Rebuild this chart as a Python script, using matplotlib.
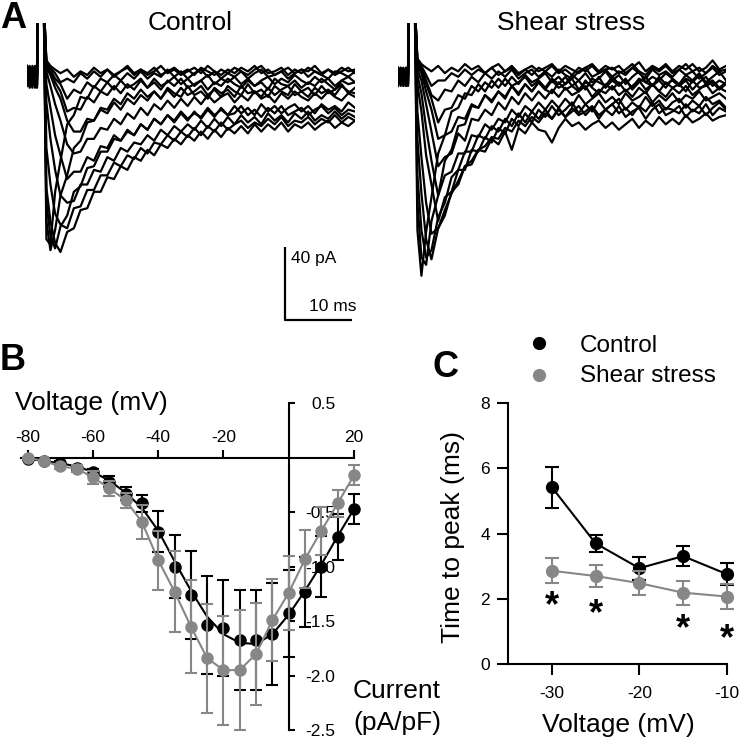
import matplotlib.pyplot as plt
from matplotlib.transforms import offset_copy

plt.rcParams['font.family'] = ['Liberation Sans', 'DejaVu Sans']
plt.rcParams['axes.unicode_minus'] = False

W, H = 739, 746
GREY = '#878787'

# ---------------- panel A : sodium current traces (pA) ----------------
t_pre = [0, 0.4, 0.8, 1.2, 1.5]
t_art = [1.6, 2.5]
t_post = [2.9, 3.5, 4.2, 5] + list(range(6, 50))
artifact_pA = 40

control_pre = [
    [2, -4, 3, -6, 1], [-3, 4, -5, 2, -2], [5, -2, -7, 3, -4], [-6, 1, 4, -3, 2],
    [0, -7, 2, 5, -5], [3, 5, -4, -1, -7], [-2, 2, 0, -7, 4], [4, -5, 5, 1, -3],
    [-5, 3, -2, 4, -6], [1, -6, 3, -4, 3], [-4, 0, -6, 2, 5], [5, -3, 1, -5, 0],
    [-1, 4, -3, 3, -1],
]
control_post = [
    [-90, -93, -64, -47, -27, -22, -12, -13, -6, -9,
     -4, -8, -3, -7, -5, -2, -7, -4, -8, -3,
     -6, -2, -7, -5, -3, -8, -4, -6, -2, -5,
     -7, -3, -6, -4, -8, -2, -5, -6, -3, -7,
     -4, -6, -2, -5, -8, -3, -5, -4],
    [-80, -96, -85, -66, -55, -40, -36, -26, -25, -18,
     -19, -13, -16, -10, -13, -8, -12, -9, -13, -7,
     -10, -12, -6, -11, -9, -13, -7, -10, -8, -12,
     -6, -10, -9, -12, -7, -11, -8, -6, -11, -9,
     -12, -7, -10, -8, -11, -6, -9, -10],
    [-70, -88, -95, -83, -77, -64, -61, -51, -50, -42,
     -42, -35, -36, -30, -33, -27, -30, -24, -27, -22,
     -26, -21, -25, -20, -24, -19, -23, -18, -22, -21,
     -17, -22, -19, -23, -18, -21, -17, -22, -20, -18,
     -22, -19, -17, -21, -18, -22, -19, -20],
    [-62, -80, -92, -97, -86, -84, -74, -73, -64, -64,
     -56, -57, -50, -52, -45, -47, -41, -44, -38, -40,
     -35, -38, -33, -36, -31, -35, -30, -34, -29, -32,
     -28, -32, -27, -31, -27, -30, -26, -31, -27, -29,
     -26, -30, -27, -25, -29, -26, -28, -25],
    [-40, -60, -76, -82, -84, -73, -72, -63, -63, -55,
     -55, -48, -50, -44, -46, -40, -43, -37, -38, -33,
     -36, -31, -34, -29, -33, -28, -31, -26, -30, -27,
     -25, -29, -26, -28, -24, -27, -23, -28, -25, -26,
     -23, -27, -24, -26, -22, -26, -23, -25],
    [-15, -35, -52, -66, -70, -69, -60, -60, -52, -53,
     -45, -47, -40, -42, -37, -38, -33, -36, -30, -33,
     -28, -31, -27, -30, -25, -29, -24, -28, -23, -27,
     -22, -26, -23, -27, -21, -25, -22, -26, -21, -24,
     -20, -25, -22, -24, -20, -24, -21, -23],
    [-5, -18, -33, -44, -57, -53, -53, -45, -47, -39,
     -40, -33, -36, -31, -33, -27, -30, -24, -27, -22,
     -25, -20, -24, -21, -23, -18, -22, -19, -22, -17,
     -21, -18, -22, -16, -20, -17, -21, -18, -16, -20,
     -17, -21, -16, -19, -17, -20, -15, -18],
    [2, -6, -16, -25, -38, -43, -42, -35, -35, -29,
     -30, -24, -27, -21, -24, -18, -22, -16, -19, -14,
     -18, -13, -17, -12, -16, -11, -15, -12, -10, -15,
     -11, -14, -9, -13, -11, -15, -10, -13, -9, -12,
     -14, -10, -13, -9, -12, -14, -10, -12],
    [4, 0, -7, -13, -25, -31, -31, -24, -25, -19,
     -21, -15, -19, -13, -16, -11, -14, -9, -13, -8,
     -12, -7, -11, -9, -6, -11, -8, -12, -6, -9,
     -11, -5, -10, -8, -12, -6, -9, -11, -5, -9,
     -7, -11, -6, -10, -8, -5, -10, -7],
    [5, 2, -4, -9, -20, -18, -19, -12, -15, -9,
     -11, -6, -10, -5, -8, -3, -7, -2, -6, -4,
     -1, -5, -2, -6, -3, 0, -5, -2, -4, -1,
     -5, -2, -6, -3, -1, -5, -2, -4, 0, -3,
     -5, -1, -4, -2, -6, -3, -1, -4],
    [6, 3, -2, -5, -13, -8, -10, -4, -7, -2,
     -4, 0, -3, 1, -2, 2, -2, 1, -1, 3,
     -1, 2, -2, 1, 3, -1, 2, -2, 1, -1,
     2, -2, 1, 3, -1, 0, 2, -2, 1, 3,
     -1, 2, 0, -2, 2, 1, -1, 2],
    [7, 4, 1, -4, -2, -4, 1, -2, 2, -1,
     3, 0, 2, 4, 0, 3, 1, 4, 0, 2,
     4, 1, 3, 0, 4, 2, 0, 3, 1, 4,
     2, 0, 3, 5, 1, 2, 4, 0, 3, 1,
     4, 2, 0, 3, 1, 4, 2, 3],
    [8, 5, 3, 1, 3, -1, 2, 0, 4, 1,
     3, -1, 2, 5, 1, 3, 0, 2, 5, 1,
     3, 0, 2, 4, 1, 5, 2, 0, 3, 1,
     4, 2, 5, 1, 3, 0, 2, 4, 1, 3,
     2, 5, 1, 3, 0, 2, 4, 1],
]

shear_pre = [
    [3, -5, 2, -6, 0], [-4, 3, -6, 1, -3], [4, -1, -6, 3, -5], [-5, 2, 4, -2, 1],
    [1, -6, 0, 4, -4], [2, 4, -3, -1, -6], [-3, 1, -1, -6, 3], [4, -4, 3, 0, -2],
    [-6, 2, -3, 4, -5], [0, -5, 2, -3, 4], [-2, 0, -5, 2, 3], [3, -3, 1, -4, -1],
    [-1, 4, -2, 2, 0],
]
shear_post = [
    [-85, -110, -86, -67, -43, -33, -20, -18, -10, -11,
     -5, -9, -3, -7, -2, -6, -4, -1, -6, -3,
     -7, -2, -5, -1, -6, -3, -8, -2, -4, -6,
     -1, -5, -3, -7, -2, -4, -6, -1, -5, -3,
     -6, -2, -4, 0, -5, -3, -7, -4],
    [-70, -100, -104, -80, -66, -47, -41, -28, -27, -17,
     -18, -11, -14, -9, -12, -6, -10, -5, -9, -4,
     -8, -10, -4, -8, -6, -9, -3, -7, -10, -5,
     -8, -4, -9, -6, -3, -8, -5, -9, -4, -7,
     -5, -9, -3, -7, -6, -4, -8, -5],
    [-55, -85, -100, -96, -78, -70, -56, -52, -42, -42,
     -33, -35, -28, -31, -24, -28, -21, -26, -20, -24,
     -19, -24, -18, -23, -20, -17, -22, -18, -24, -19,
     -22, -17, -23, -20, -18, -24, -19, -16, -22, -20,
     -17, -23, -19, -21, -16, -22, -18, -20],
    [-35, -65, -90, -101, -84, -77, -64, -60, -50, -49,
     -41, -42, -35, -38, -31, -41, -29, -32, -26, -30,
     -31, -37, -29, -24, -28, -26, -30, -27, -25, -29,
     -26, -30, -27, -24, -29, -25, -28, -23, -27, -24,
     -27, -22, -26, -24, -21, -25, -23, -22],
    [-20, -45, -70, -87, -84, -74, -65, -58, -50, -47,
     -41, -39, -34, -35, -29, -31, -25, -28, -23, -26,
     -21, -24, -19, -23, -18, -22, -20, -17, -22, -19,
     -16, -21, -18, -22, -17, -20, -15, -21, -18, -19,
     -21, -16, -20, -17, -22, -18, -15, -19],
    [-5, -20, -44, -60, -80, -67, -64, -52, -52, -41,
     -42, -34, -37, -29, -32, -24, -28, -21, -26, -19,
     -23, -17, -22, -19, -15, -21, -16, -20, -14, -19,
     -16, -13, -19, -15, -18, -12, -17, -14, -19, -15,
     -13, -18, -14, -17, -12, -16, -14, -18],
    [0, -10, -29, -47, -66, -55, -53, -43, -43, -33,
     -34, -27, -30, -24, -26, -19, -23, -17, -20, -15,
     -19, -14, -18, -13, -17, -11, -16, -13, -10, -15,
     -12, -16, -10, -14, -12, -9, -15, -11, -14, -10,
     -15, -11, -13, -9, -14, -12, -10, -13],
    [3, -3, -16, -31, -50, -45, -43, -32, -36, -24,
     -25, -19, -22, -15, -19, -12, -16, -10, -14, -9,
     -13, -8, -12, -7, -11, -9, -6, -12, -8, -10,
     -6, -11, -8, -12, -7, -10, -5, -9, -12, -7,
     -10, -6, -11, -8, -5, -10, -7, -9],
    [5, 1, -9, -19, -35, -33, -31, -23, -24, -16,
     -18, -11, -15, -9, -13, -6, -11, -5, -9, -4,
     -8, -3, -7, -5, -2, -8, -4, -6, -1, -7,
     -3, -6, -2, -8, -4, -1, -6, -3, -7, -2,
     -6, -3, -8, -4, -1, -6, -3, -5],
    [6, 3, -5, -13, -26, -19, -18, -11, -13, -6,
     -9, -4, -7, -2, -6, -1, -5, 0, -4, -2,
     1, -4, -1, -5, 0, -3, 1, -4, -2, 2,
     -3, 0, -5, -1, 2, -4, -1, -3, 1, -2,
     -5, 0, -3, 1, -4, -1, 2, -3],
    [7, 4, -3, -11, -14, -8, -9, -3, -6, -1,
     -4, 1, -2, 2, -1, 3, -2, 1, 3, -1,
     2, -1, 3, 0, -2, 2, 4, -1, 1, 3,
     -1, 2, 0, 4, 1, -2, 3, 0, 2, -1,
     3, 0, 2, -2, 1, 4, 0, 2],
    [8, 5, 0, -6, -3, -3, 1, -1, 3, 0,
     3, 1, 4, 0, 2, 5, 1, 3, 0, 4,
     2, 5, 1, 3, 0, 4, 2, 5, 1, 3,
     4, 1, 3, 6, 2, 0, 4, 2, 5, 1,
     3, 6, 2, 4, 1, 5, 2, 3],
    [9, 6, 4, 2, 5, 1, 4, 2, 6, 3,
     5, 1, 4, 6, 2, 4, 0, 3, 5, 2,
     4, 6, 2, 5, 3, 1, 4, 6, 2, 5,
     3, 5, 1, 4, 7, 2, 5, 3, 6, 2,
     5, 3, 6, 2, 4, 8, 3, 5],
]

scale_pA = 40
scale_ms = 10

# ---------------- panel B : I-V relationship (pA/pF) ----------------
iv_voltage = list(range(-80, 25, 5))
iv_control = [-0.01, -0.03, -0.05, -0.09, -0.13, -0.22, -0.33, -0.42, -0.68, -1.00, -1.26,
              -1.54, -1.56, -1.67, -1.67, -1.62, -1.43, -1.23, -1.00, -0.73, -0.47]
iv_control_err = [0.01, 0.01, 0.02, 0.02, 0.03, 0.05, 0.06, 0.08, 0.19, 0.29, 0.40,
                  0.45, 0.44, 0.46, 0.46, 0.47, 0.40, 0.32, 0.28, 0.21, 0.14]
iv_control_fit = [-0.01, -0.03, -0.05, -0.08, -0.13, -0.21, -0.32, -0.46, -0.67, -0.95, -1.22,
                  -1.46, -1.62, -1.70, -1.71, -1.62, -1.44, -1.22, -0.98, -0.72, -0.47]
iv_shear = [0.0, -0.03, -0.08, -0.10, -0.18, -0.28, -0.39, -0.59, -0.94, -1.23, -1.55,
            -1.84, -1.95, -1.95, -1.80, -1.49, -1.24, -0.93, -0.67, -0.42, -0.16]
iv_shear_err = [0.01, 0.01, 0.02, 0.03, 0.06, 0.07, 0.07, 0.16, 0.27, 0.37, 0.43,
                0.50, 0.50, 0.55, 0.47, 0.38, 0.34, 0.27, 0.22, 0.12, 0.09]
iv_xticks = [-80, -60, -40, -20, 20]
iv_yticks = [0.5, -0.5, -1.0, -1.5, -2.0, -2.5]

# ---------------- panel C : time to peak (ms) ----------------
ttp_voltage = [-30, -25, -20, -15, -10]
ttp_control = [5.42, 3.70, 2.94, 3.31, 2.76]
ttp_control_err = [0.63, 0.27, 0.35, 0.30, 0.33]
ttp_shear = [2.86, 2.70, 2.48, 2.19, 2.07]
ttp_shear_err = [0.38, 0.33, 0.37, 0.37, 0.37]
star_voltage = [-30, -25, -15, -10]
star_y = [2.12, 1.86, 1.40, 1.09]

assert all(len(p) == len(t_post) for p in control_post + shear_post)

fig = plt.figure(figsize=(W / 100, H / 100), dpi=100)


def px_axes(x0, y0, x1, y1):
    return fig.add_axes([x0 / W, 1 - y1 / H, (x1 - x0) / W, (y1 - y0) / H])


def fig_text(x, y, s, **kw):
    fig.text(x / W, 1 - y / H, s, **kw)


def draw_traces(ax, pre, post):
    t = t_pre + t_art + t_post
    for a, b in zip(pre, post):
        ax.plot(t, a + [artifact_pA] * 2 + b, color='k', lw=1.6)
    ax.set_xlim(0, 49)
    ax.set_ylim(-137, 28.5)
    ax.axis('off')


# panel A
axA1 = px_axes(27, 23, 355, 325)
draw_traces(axA1, control_pre, control_post)
axA2 = px_axes(398, 23, 726, 325)
draw_traces(axA2, shear_pre, shear_post)

x0, y0 = 38.5, -134.2
axA1.plot([x0, x0, x0 + scale_ms], [y0 + scale_pA, y0, y0], color='k', lw=1.6,
          clip_on=False, solid_capstyle='butt')
axA1.text(39.5, -102.8, '%d pA' % scale_pA, fontsize=12.5, ha='left', va='baseline')
axA1.text(42.2, -129.2, '%d ms' % scale_ms, fontsize=12.5, ha='left', va='baseline')

fig_text(190, 30, 'Control', fontsize=19, ha='center', va='baseline')
fig_text(571, 30, 'Shear stress', fontsize=19, ha='center', va='baseline')

# panel B
axB = px_axes(21.2, 403.3, 354, 730)
axB.set_xlim(-82, 20)
axB.set_ylim(-2.5, 0.5)
for s in ['left', 'bottom']:
    axB.spines[s].set_visible(False)
for s in ['top', 'right']:
    axB.spines[s].set_position(('data', 0))
    axB.spines[s].set_linewidth(1.5)
    axB.spines[s].set_zorder(2)
axB.xaxis.tick_top()
axB.yaxis.tick_right()
axB.set_xticks(iv_xticks)
axB.set_xticklabels([str(v) for v in iv_xticks])
axB.set_yticks(iv_yticks)
axB.set_yticklabels(['%.1f' % v for v in iv_yticks])
axB.tick_params(axis='x', length=5.5, width=1.5, labelsize=12.5, pad=4)
axB.tick_params(axis='y', length=4.5, width=1.5, labelsize=12.5, pad=29)
for lab in axB.get_yticklabels():
    lab.set_horizontalalignment('right')

axB.plot(iv_voltage, iv_control_fit, color='k', lw=1.5, zorder=3)
axB.errorbar(iv_voltage, iv_control, yerr=iv_control_err, fmt='o', color='k', ms=8,
             capsize=4.3, elinewidth=1.5, capthick=1.5, zorder=4, clip_on=False)
axB.plot(iv_voltage, iv_shear, color=GREY, lw=1.5, zorder=5, clip_on=False)
axB.errorbar(iv_voltage, iv_shear, yerr=iv_shear_err, fmt='o', color=GREY, ms=8,
             capsize=4.3, elinewidth=1.5, capthick=1.5, zorder=6, clip_on=False)

fig_text(15, 410, 'Voltage (mV)', fontsize=19, ha='left', va='baseline')
fig_text(353, 698, 'Current', fontsize=19, ha='left', va='baseline')
fig_text(353, 730, '(pA/pF)', fontsize=19, ha='left', va='baseline')

# panel C
axC = px_axes(508.3, 403.3, 726.7, 664)
axC.set_xlim(-35, -10)
axC.set_ylim(0, 8)
axC.spines['top'].set_visible(False)
axC.spines['right'].set_visible(False)
for s in ['left', 'bottom']:
    axC.spines[s].set_linewidth(1.5)
axC.set_xticks([-30, -20, -10])
axC.set_xticklabels(['-30', '-20', '-10'])
axC.set_yticks([0, 2, 4, 6, 8])
axC.tick_params(axis='both', length=8, width=1.5, labelsize=12.5)
axC.tick_params(axis='x', pad=8)
axC.tick_params(axis='y', pad=5)

axC.errorbar(ttp_voltage, ttp_control, yerr=ttp_control_err, fmt='-o', color='k', ms=8.5,
             lw=1.5, capsize=4.8, elinewidth=1.5, capthick=1.5, zorder=3, clip_on=False)
axC.errorbar(ttp_voltage, ttp_shear, yerr=ttp_shear_err, fmt='-o', color=GREY, ms=8.5,
             lw=1.5, capsize=4.8, elinewidth=1.5, capthick=1.5, zorder=4, clip_on=False)
# the asterisk glyph sits high in its box, so drop the baseline below the mark centre
star_tr = offset_copy(axC.transData, fig=fig, y=-15, units='points')
for v, y in zip(star_voltage, star_y):
    axC.text(v, y, '*', fontsize=26, fontweight='bold', ha='center', va='baseline',
             transform=star_tr)

fig_text(460, 536.7, 'Time to peak (ms)', fontsize=19, rotation=90,
         rotation_mode='anchor', ha='center', va='baseline')
fig_text(618, 731.7, 'Voltage (mV)', fontsize=19, ha='center', va='baseline')

# legend for C
axC.plot([539.3 / W], [1 - 342.7 / H], 'o', color='k', ms=8.5,
         transform=fig.transFigure, clip_on=False)
axC.plot([539.3 / W], [1 - 375 / H], 'o', color=GREY, ms=8.5,
         transform=fig.transFigure, clip_on=False)
fig_text(580, 351.7, 'Control', fontsize=17.5, ha='left', va='baseline')
fig_text(580, 381.7, 'Shear stress', fontsize=17.5, ha='left', va='baseline')

# panel letters
fig_text(0, 1, 'A', fontsize=26, fontweight='bold', ha='left', va='top')
fig_text(0, 343, 'B', fontsize=26, fontweight='bold', ha='left', va='top')
fig_text(432, 350, 'C', fontsize=26, fontweight='bold', ha='left', va='top')

fig.savefig('out.png', dpi=100)
